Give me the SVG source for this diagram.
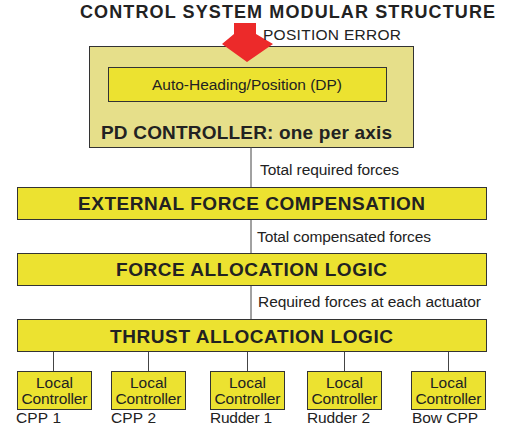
<svg xmlns="http://www.w3.org/2000/svg" width="511" height="429" viewBox="0 0 511 429">
<style>
text{font-family:"Liberation Sans",Arial,sans-serif;fill:#222}
.b{font-weight:bold;font-size:19px}
.t{font-weight:bold;font-size:18px}
.n{font-size:15.5px}
.box{fill:#ece230;stroke:#333;stroke-width:1}
.lc{fill:#ece230;stroke:#333;stroke-width:1}
.c{stroke:#444;stroke-width:1;fill:none}
.m{text-anchor:middle}
</style>
<rect width="511" height="429" fill="#fff"/>
<text id="title" class="t" x="80" y="18" textLength="415" lengthAdjust="spacing">CONTROL SYSTEM MODULAR STRUCTURE</text>
<g id="pd">
<rect x="89.5" y="46.5" width="324" height="101" fill="#e6df8a" stroke="#333"/>
<rect class="box" x="108.5" y="67.5" width="278" height="34"/>
<text class="n" x="152" y="90" textLength="190" lengthAdjust="spacing">Auto-Heading/Position (DP)</text>
<text class="b" x="101" y="139" textLength="291" lengthAdjust="spacing">PD CONTROLLER: one per axis</text>
</g>
<g id="error">
<polygon points="234,23 256,23 256,34 273,44 247,62 222,44 234,34" fill="#ec2a2a"/>
<text class="n" x="263" y="40" textLength="138" lengthAdjust="spacing">POSITION ERROR</text>
</g>
<g id="connectors">
<line class="c" x1="251" y1="147" x2="251" y2="187"/>
<line class="c" x1="251" y1="219" x2="251" y2="253"/>
<line class="c" x1="251" y1="286" x2="251" y2="319"/>
<line class="c" x1="53.5" y1="352" x2="53.5" y2="371"/>
<line class="c" x1="148.5" y1="352" x2="148.5" y2="371"/>
<line class="c" x1="247.5" y1="352" x2="247.5" y2="371"/>
<line class="c" x1="344.5" y1="352" x2="344.5" y2="371"/>
<line class="c" x1="448.5" y1="352" x2="448.5" y2="371"/>
<text class="n" x="260" y="175" textLength="139" lengthAdjust="spacing">Total required forces</text>
<text class="n" x="257" y="242" textLength="174" lengthAdjust="spacing">Total compensated forces</text>
<text class="n" x="258" y="307" textLength="223" lengthAdjust="spacing">Required forces at each actuator</text>
</g>
<g id="external">
<rect class="box" x="17.5" y="187.5" width="469" height="32"/>
<text class="b" x="78" y="210" textLength="347" lengthAdjust="spacing">EXTERNAL FORCE COMPENSATION</text>
</g>
<g id="force">
<rect class="box" x="17.5" y="253.5" width="469" height="32"/>
<text class="b" x="116" y="276" textLength="271" lengthAdjust="spacing">FORCE ALLOCATION LOGIC</text>
</g>
<g id="thrust">
<rect class="box" x="17.5" y="319.5" width="469" height="32"/>
<text class="b" x="110" y="343" textLength="283" lengthAdjust="spacing">THRUST ALLOCATION LOGIC</text>
</g>
<g id="lc1">
<rect class="lc" x="17.5" y="371.5" width="74" height="38"/>
<text class="n m" x="54.5" y="388">Local</text><text class="n m" x="54.5" y="404" textLength="66" lengthAdjust="spacing">Controller</text>
<text class="n" x="16" y="423" textLength="45" lengthAdjust="spacing">CPP 1</text>
</g>
<g id="lc2">
<rect class="lc" x="111.5" y="371.5" width="74" height="38"/>
<text class="n m" x="148.5" y="388">Local</text><text class="n m" x="148.5" y="404" textLength="66" lengthAdjust="spacing">Controller</text>
<text class="n" x="111" y="423" textLength="45" lengthAdjust="spacing">CPP 2</text>
</g>
<g id="lc3">
<rect class="lc" x="210.5" y="371.5" width="74" height="38"/>
<text class="n m" x="247.5" y="388">Local</text><text class="n m" x="247.5" y="404" textLength="66" lengthAdjust="spacing">Controller</text>
<text class="n" x="210" y="423" textLength="62" lengthAdjust="spacing">Rudder 1</text>
</g>
<g id="lc4">
<rect class="lc" x="307.5" y="371.5" width="74" height="38"/>
<text class="n m" x="344.5" y="388">Local</text><text class="n m" x="344.5" y="404" textLength="66" lengthAdjust="spacing">Controller</text>
<text class="n" x="307" y="423" textLength="63" lengthAdjust="spacing">Rudder 2</text>
</g>
<g id="lc5">
<rect class="lc" x="411.5" y="371.5" width="74" height="38"/>
<text class="n m" x="448.5" y="388">Local</text><text class="n m" x="448.5" y="404" textLength="66" lengthAdjust="spacing">Controller</text>
<text class="n" x="412" y="423" textLength="66" lengthAdjust="spacing">Bow CPP</text>
</g>
</svg>
